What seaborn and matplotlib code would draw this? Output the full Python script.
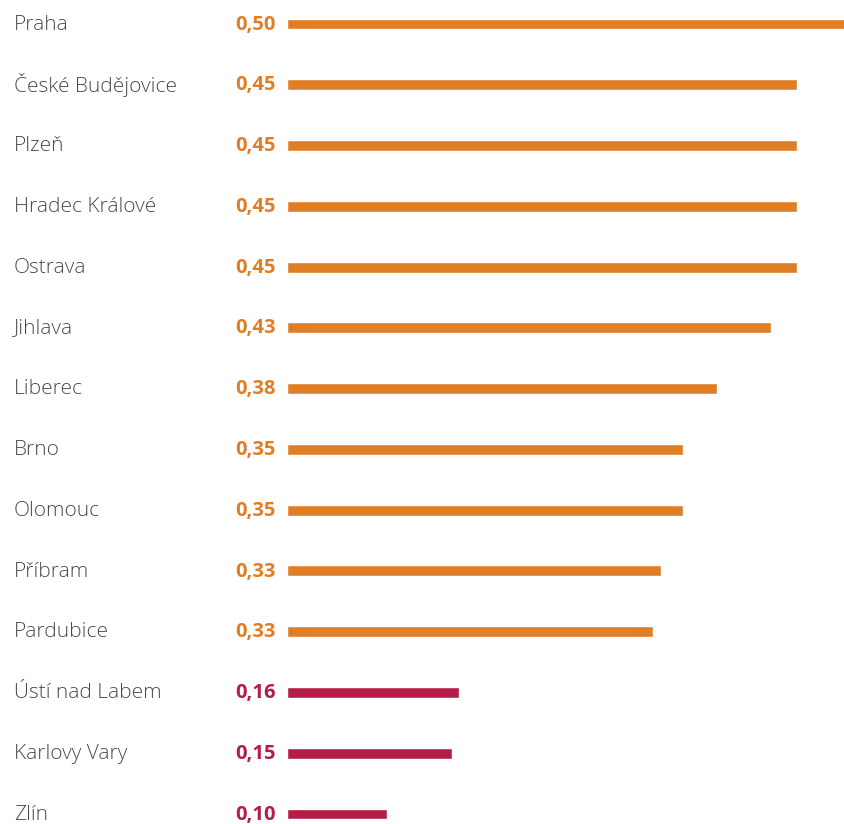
import seaborn as sns
import matplotlib.pyplot as plt
import pandas as pd
from matplotlib.transforms import blended_transform_factory

cities = ["Praha", "České Budějovice", "Plzeň", "Hradec Králové", "Ostrava",
          "Jihlava", "Liberec", "Brno", "Olomouc", "Příbram", "Pardubice",
          "Ústí nad Labem", "Karlovy Vary", "Zlín"]
# hodnoty v popiscích
labels = ["0,50", "0,45", "0,45", "0,45", "0,45", "0,43", "0,38",
          "0,35", "0,35", "0,33", "0,33", "0,16", "0,15", "0,10"]
# délky pruhů
values = [0.500, 0.457, 0.457, 0.457, 0.457, 0.434, 0.385,
          0.355, 0.355, 0.335, 0.328, 0.154, 0.148, 0.090]
groups = ["high"] * 11 + ["low"] * 3

orange = "#E07E26"
crimson = "#B31D48"
palette = {"high": orange, "low": crimson}

df = pd.DataFrame({"mesto": cities, "hodnota": values, "skupina": groups})

sns.set_theme(style="white")
plt.rcParams["font.family"] = ["Open Sans", "DejaVu Sans"]

fig = plt.figure(figsize=(8.45, 8.24), dpi=100)
ax = fig.add_axes([287 / 845, 0, 1 - 287 / 845, 1])

sns.barplot(data=df, x="hodnota", y="mesto", hue="skupina", palette=palette,
            width=0.18, dodge=False, legend=False, ax=ax, saturation=1)

ax.set_xlim(0, 0.5)
ax.set_ylim(13 + 10 / 60.77, -24 / 60.77)
ax.axis("off")

tr = blended_transform_factory(fig.transFigure, ax.transData)
for i, (c, lab, g) in enumerate(zip(cities, labels, groups)):
    ax.text(14 / 845, i + 0.01, c, transform=tr, ha="left", va="center",
            fontsize=15, color="#4a4a4a", fontweight="light")
    ax.text(276 / 845, i + 0.01, lab, transform=tr, ha="right", va="center",
            fontsize=14.5, color=palette[g], fontweight="bold")

fig.savefig("out.png", dpi=100)
